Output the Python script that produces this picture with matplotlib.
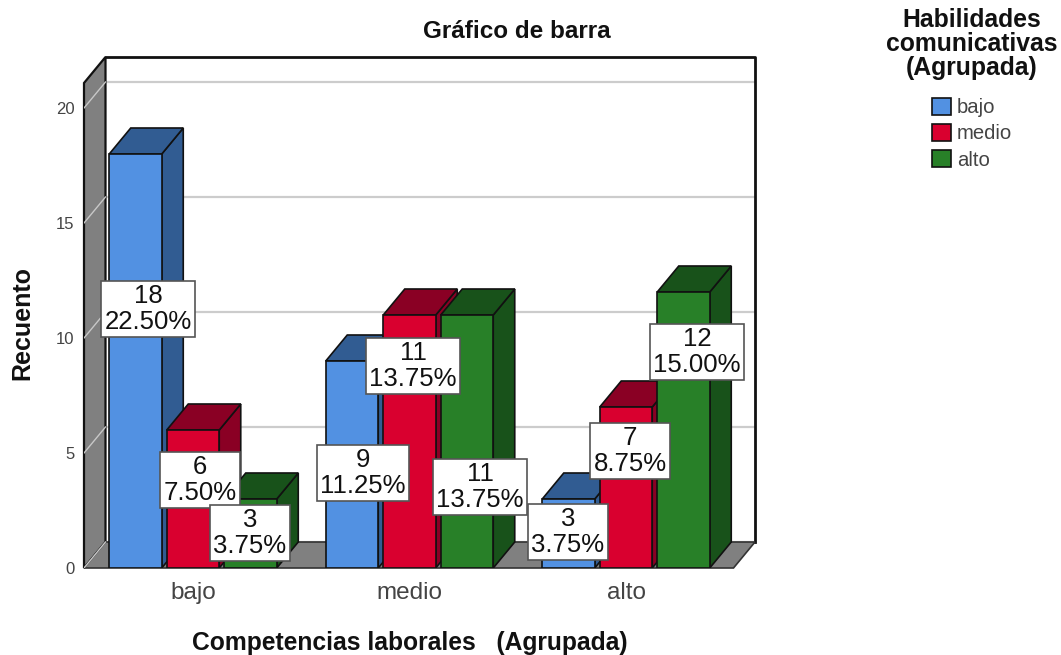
#!/usr/bin/env python

import numpy as np
import matplotlib
matplotlib.use("agg")
import matplotlib.pyplot as plt
from matplotlib.patches import Polygon, Patch

plt.rcParams['font.family'] = ['Liberation Sans', 'DejaVu Sans']

categories = ["bajo", "medio", "alto"]
series = ["bajo", "medio", "alto"]
bajo_vals = [18, 9, 3]
medio_vals = [6, 11, 7]
alto_vals = [3, 11, 12]
bajo_pct = ["22.50%", "11.25%", "3.75%"]
medio_pct = ["7.50%", "13.75%", "8.75%"]
alto_pct = ["3.75%", "13.75%", "15.00%"]
y_ticks = [0, 5, 10, 15, 20]

W, H = 1061, 655
# plot box in pixels, front plane plus depth
left, right, bottom, top = 84, 755, 568, 57
px_x = 216.5   # pixels per category
px_y = 23.0    # pixels per count
dx = 21.5 / px_x
dy = 26.0 / px_y
x0 = (193 - left) / px_x
bar_w = 52.5 / px_x
bar_step = 57.5 / px_x

fronts = ["#5291E2", "#D9002F", "#288028"]
darks = ["#315C92", "#8A0024", "#18521A"]
labels_pos = [  # label centres in pixels, per series, per category
    [(148, 309), (363, 473), (568, 532)],
    [(200, 480), (413, 366), (630, 451)],
    [(250, 533), (480, 487), (697, 352)],
]

fig = plt.figure(figsize=(W / 100, H / 100), dpi=100)
ax = fig.add_axes([left / W, 1 - bottom / H, (right - left) / W, (bottom - top) / H])
ax.set_xlim(-x0, (right - left) / px_x - x0)
ax.set_ylim(0, (bottom - top) / px_y)
xmin, xmax = ax.get_xlim()
ymax = ax.get_ylim()[1]
for s in ax.spines.values():
    s.set_visible(False)

edge = "#111111"
gray = "#808080"
# back wall, left wall, floor
ax.add_patch(Polygon([(xmin + dx, dy), (xmax, dy), (xmax, ymax), (xmin + dx, ymax)],
                     fc="white", ec="none", zorder=1))
for t in y_ticks:
    ax.plot([xmin + dx, xmax], [t + dy, t + dy], color="#CCCCCC", lw=1.6, zorder=1.5)
ax.plot([xmin + dx, xmax, xmax], [ymax, ymax, dy], color=edge, lw=2.0, zorder=1.6, clip_on=False)
ax.add_patch(Polygon([(xmin, 0), (xmin + dx, dy), (xmin + dx, ymax), (xmin, ymax - dy)],
                     fc=gray, ec=edge, lw=1.6, zorder=2, clip_on=False))
ax.add_patch(Polygon([(xmin, 0), (xmax - dx, 0), (xmax, dy), (xmin + dx, dy)],
                     fc=gray, ec="#333333", lw=1.2, zorder=2, clip_on=False))
for t in y_ticks:
    ax.plot([xmin, xmin + dx], [t, t + dy], color="#C8C8C8", lw=1.0, zorder=2.5)

all_vals = [bajo_vals, medio_vals, alto_vals]
all_pct = [bajo_pct, medio_pct, alto_pct]
for i in range(len(categories)):
    for j in range(len(series)):
        v = all_vals[j][i]
        x = i + (j - 1) * bar_step - bar_w / 2
        z = 3 + i + j * 0.1
        ax.bar(x, v, bar_w, align="edge", color=fronts[j], ec=edge, lw=1.2, zorder=z + 0.02)
        ax.add_patch(Polygon([(x + bar_w, 0), (x + bar_w + dx, dy), (x + bar_w + dx, v + dy), (x + bar_w, v)],
                             fc=darks[j], ec=edge, lw=1.2, zorder=z))
        ax.add_patch(Polygon([(x, v), (x + dx, v + dy), (x + bar_w + dx, v + dy), (x + bar_w, v)],
                             fc=darks[j], ec=edge, lw=1.2, zorder=z))

for j in range(len(series)):
    for i in range(len(categories)):
        px, py = labels_pos[j][i]
        fig.text(px / W, 1 - py / H, "%d\n%s" % (all_vals[j][i], all_pct[j][i]),
                 ha="center", va="center", fontsize=18.5, color="#111111", linespacing=1.08,
                 zorder=10, bbox=dict(fc="white", ec="#555555", lw=1.2, pad=2.5))

ax.set_xticks(range(len(categories)))
ax.set_xticklabels(categories, fontsize=17.5, color="#444444")
ax.set_yticks(y_ticks)
ax.set_yticklabels(y_ticks, fontsize=12, color="#444444")
ax.tick_params(axis="both", length=0)
ax.tick_params(axis="x", pad=10)
ax.tick_params(axis="y", pad=7)

fig.text(517 / W, 1 - 31 / H, "Gráfico de barra", ha="center", va="center",
         fontsize=17.5, fontweight="bold", color="#111111")
fig.text(410 / W, 1 - 643 / H, "Competencias laborales   (Agrupada)", ha="center", va="center",
         fontsize=17.7, fontweight="bold", color="#111111")
fig.text(22 / W, 1 - 323 / H, "Recuento", rotation=90, ha="center", va="center",
         fontsize=18, fontweight="bold", color="#111111")

handles = [Patch(fc=fronts[k], ec=edge, lw=1.2, label=series[k]) for k in range(len(series))]
leg = fig.legend(handles=handles, title="Habilidades\ncomunicativas\n(Agrupada)", frameon=False,
                 loc="upper center", bbox_to_anchor=(972 / W, 1 + 10 / H), fontsize=14.6,
                 handlelength=0.95, handleheight=0.95, handletextpad=0.3, labelspacing=0.32,
                 labelcolor="#444444")
leg.get_title().set_fontsize(17.8)
leg.get_title().set_fontweight("bold")
leg.get_title().set_color("#111111")
leg.get_title().set_linespacing(0.99)
leg.get_title().set_multialignment("center")
leg._legend_box.sep = 12.7

plt.savefig("out.png", dpi=100)
